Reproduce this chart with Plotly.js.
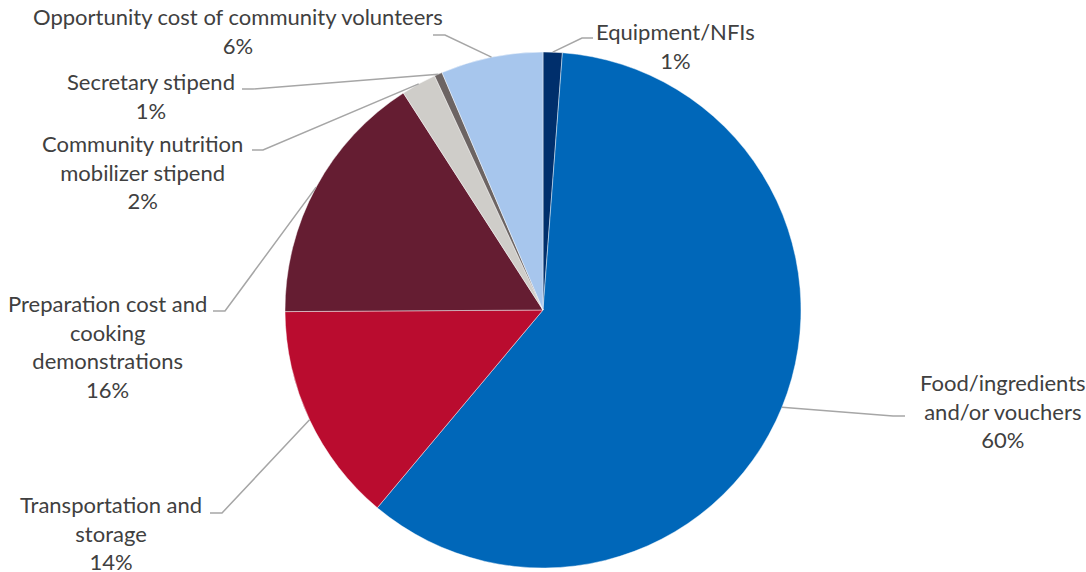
<!DOCTYPE html>
<html>
<head>
<meta charset="utf-8">
<script src="https://cdn.plot.ly/plotly-3.0.1.min.js"></script>
<style>html,body{margin:0;padding:0;background:#fff;}#chart{width:1086px;height:572px;}</style>
</head>
<body>
<div id="chart"></div>
<script>
// ---- data (clockwise from 12 o'clock) ----
const categories = ['Equipment/NFIs', 'Food/ingredients and/or vouchers', 'Transportation and storage',
  'Preparation cost and cooking demonstrations', 'Community nutrition mobilizer stipend',
  'Secretary stipend', 'Opportunity cost of community volunteers'];
const labelText = ['Equipment/NFIs', 'Food/ingredients<br>and/or vouchers', 'Transportation and<br>storage',
  'Preparation cost and<br>cooking<br>demonstrations', 'Community nutrition<br>mobilizer stipend',
  'Secretary stipend', 'Opportunity cost of community volunteers'];
const shares = [1.2, 59.9, 13.8, 16.0, 2.2, 0.5, 6.4];
const colors = ['#002F6C', '#0067B9', '#BA0C2F', '#651D32', '#CFCDC9', '#6C6463', '#A7C6ED'];

// ---- layout helpers (pixel -> paper) ----
const W = 1086, H = 572;
const px = x => x / W, py = y => 1 - y / H;
const cx = 543, cy = 310, R = 258;
const domX = [px(cx - R), px(cx + R)];
const domY = [py(cy + R), py(cy - R)];

// label block centres and leader-line elbows (layout positions)
const labelPos = [[675, 46], [1003, 411], [111, 533], [107, 346], [142, 172], [151, 96], [238, 31]];
const leaderPts = [
  [[582, 38], [593, 38]],
  [[893, 416], [905, 416]],
  [[222, 513], [210, 513]],
  [[225, 311], [213, 311]],
  [[263, 150], [252, 150]],
  [[253, 89], [242, 89]],
  [[445, 35], [433, 35]]
];

const total = shares.reduce((a, b) => a + b, 0);
const annotations = [], shapes = [];
let cum = 0;
shares.forEach((v, i) => {
  const mid = (cum + v / 2) / total * 2 * Math.PI;
  cum += v;
  const tx = cx + R * Math.sin(mid), ty = cy - R * Math.cos(mid);
  const pct = Math.round(v / total * 100 + 1e-9) + '%';
  annotations.push({
    xref: 'paper', yref: 'paper', x: px(labelPos[i][0]), y: py(labelPos[i][1]),
    xanchor: 'center', yanchor: 'middle', showarrow: false, align: 'center',
    text: labelText[i] + '<br>' + pct,
    font: {family: 'Lato, "Open Sans", sans-serif', size: 22, color: '#404040'}
  });
  const pts = [[tx, ty]].concat(leaderPts[i]);
  const path = 'M' + pts.map(p => px(p[0]) + ',' + py(p[1])).join(' L');
  shapes.push({type: 'path', xref: 'paper', yref: 'paper', path: path,
    line: {color: '#A6A6A6', width: 1.5}});
});

const trace = {
  type: 'pie', labels: categories, values: shares, sort: false, direction: 'clockwise', rotation: 0,
  marker: {colors: colors, line: {color: 'rgba(255,255,255,0.6)', width: 0.75}},
  textinfo: 'none', hoverinfo: 'label+percent', showlegend: false,
  domain: {x: domX, y: domY}
};

Plotly.newPlot('chart', [trace], {
  width: W, height: H, margin: {l: 0, r: 0, t: 0, b: 0},
  paper_bgcolor: '#ffffff', showlegend: false,
  annotations: annotations, shapes: shapes
}, {displayModeBar: false, staticPlot: true});
</script>
</body>
</html>
